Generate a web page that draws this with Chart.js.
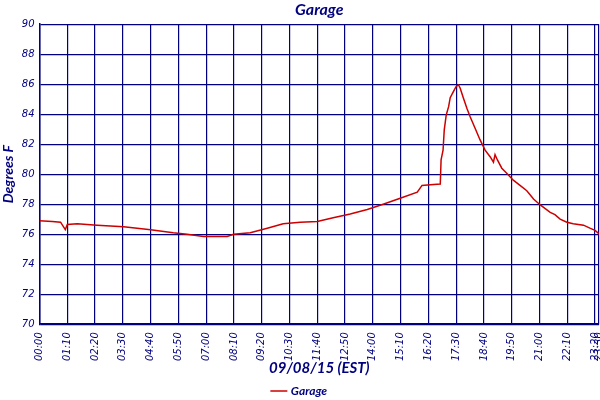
<!DOCTYPE html>
<html>
<head>
<meta charset="utf-8">
<script src="https://cdn.jsdelivr.net/npm/chart.js@4"></script>
<style>
  html, body { margin: 0; padding: 0; background: #fff; }
  #wrap { width: 600px; height: 400px; }
</style>
</head>
<body>
<div id="wrap"><canvas id="chart"></canvas></div>
<script>
// readings for 09/08/15, time of day and degrees F
const times = ['00:00','00:32','00:53','01:05','01:10','01:35','02:25','03:32','04:40','05:37','06:12',
  '06:53','07:53','08:09','08:51','09:34','10:14','10:57','11:40','12:20','13:03','13:46','14:26',
  '15:09','15:52','16:04','16:25','16:50','16:52','16:57','17:00','17:05','17:11','17:15','17:23',
  '17:30','17:36','17:40','17:48','17:57','18:05','18:18','18:30','18:43','18:56','19:04','19:08',
  '19:14','19:25','19:38','19:54','20:11','20:28','20:45','21:02','21:27','21:39','21:52','22:09',
  '22:25','22:51','23:07','23:20','23:31'];
const garage = [76.9,76.85,76.8,76.3,76.65,76.7,76.6,76.5,76.3,76.1,76.0,
  75.85,75.85,76.0,76.1,76.4,76.7,76.8,76.85,77.1,77.35,77.65,78.0,
  78.4,78.8,79.25,79.3,79.35,80.95,81.6,82.95,83.95,84.5,85.1,85.5,
  85.85,85.95,85.75,85.1,84.4,83.85,83.05,82.3,81.6,81.15,80.8,81.3,
  80.95,80.4,80.05,79.6,79.25,78.9,78.35,77.95,77.45,77.3,77.0,76.8,
  76.7,76.6,76.4,76.25,76.0];
const tickMinutes = [0,70,140,210,280,350,420,490,560,630,700,770,840,910,980,1050,1120,1190,1260,1330,1400,1410];

const navy = '#000080';

function toMin(t) {
  const p = t.split(':');
  return parseInt(p[0]) * 60 + parseInt(p[1]);
}
function toLabel(m) {
  const h = Math.floor(m / 60), mm = m % 60;
  return String(h).padStart(2, '0') + ':' + String(mm).padStart(2, '0');
}

const points = times.map((t, i) => ({ x: toMin(t), y: garage[i] }));

const ctx = document.getElementById('chart').getContext('2d');
new Chart(ctx, {
  type: 'line',
  data: {
    datasets: [{
      label: 'Garage',
      data: points,
      borderColor: '#cc0000',
      backgroundColor: '#cc0000',
      borderWidth: 1.5,
      pointRadius: 0,
      tension: 0
    }]
  },
  options: {
    responsive: true,
    maintainAspectRatio: false,
    animation: false,
    layout: { padding: { left: 0, right: 0, top: 0, bottom: -7 } },
    plugins: {
      title: {
        display: true,
        fullSize: false,
        text: 'Garage',
        color: navy,
        font: { family: 'Lato', size: 16, weight: 'bold', style: 'italic' },
        padding: { top: 0, bottom: 5 }
      },
      legend: {
        position: 'bottom',
        labels: {
          color: navy,
          usePointStyle: true,
          pointStyle: 'line',
          boxWidth: 14,
          padding: 3,
          font: { family: 'Lato', size: 12, weight: 'bold', style: 'italic' }
        }
      },
      tooltip: { enabled: false }
    },
    scales: {
      x: {
        type: 'linear',
        min: 0,
        max: 1410,
        afterBuildTicks: axis => { axis.ticks = tickMinutes.map(v => ({ value: v })); },
        afterFit: axis => { axis.paddingRight = 1; axis.height -= 10; },
        ticks: {
          color: navy,
          autoSkip: false,
          minRotation: 90,
          maxRotation: 90,
          padding: 8,
          font: { family: 'DejaVu Sans', size: 10, style: 'italic' },
          callback: v => toLabel(v)
        },
        grid: { color: navy, lineWidth: 1.2, drawTicks: false },
        border: { color: navy, width: 1.5 },
        title: {
          display: true,
          text: '09/08/15 (EST)',
          color: navy,
          font: { family: 'Lato', size: 15, weight: 'bold', style: 'italic' },
          padding: { top: 0, bottom: 5 }
        }
      },
      y: {
        min: 70,
        max: 90,
        ticks: {
          stepSize: 2,
          color: navy,
          padding: 5,
          font: { family: 'DejaVu Sans', size: 10, style: 'italic' }
        },
        grid: { color: navy, lineWidth: 1.2, drawTicks: false },
        border: { color: navy, width: 1.5 },
        title: {
          display: true,
          text: 'Degrees F',
          color: navy,
          font: { family: 'Lato', size: 14, weight: 'bold', style: 'italic' },
          padding: { top: 0, bottom: 0 }
        }
      }
    }
  }
});
</script>
</body>
</html>
